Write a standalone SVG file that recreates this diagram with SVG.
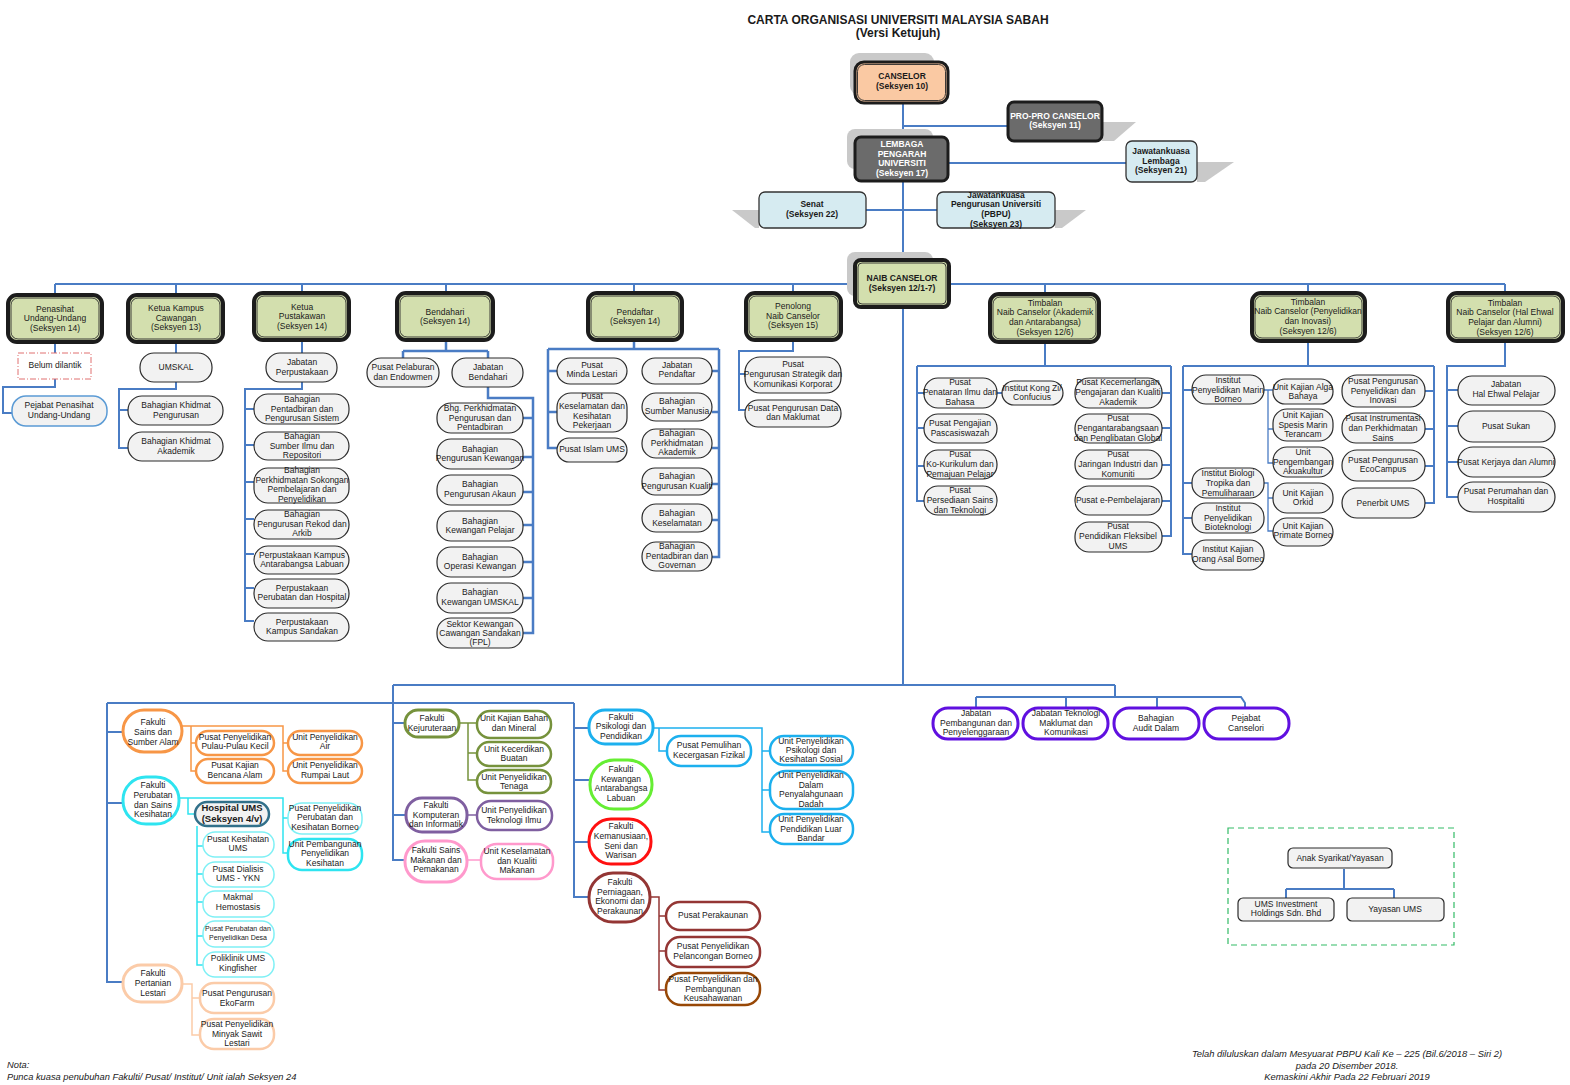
<svg xmlns="http://www.w3.org/2000/svg" width="1570" height="1085" viewBox="0 0 1570 1085">
<style>
text{font-family:"Liberation Sans",Arial,sans-serif;font-size:8.5px;fill:#1a1a1a;text-anchor:middle}
.b{font-weight:bold}
.w{fill:#fff}
.i{font-style:italic}
.c{fill:none;stroke:#4A7CC4;stroke-width:2}
.p{fill:#F2F2F2;stroke:#2b2b2b;stroke-width:1.2}
.g{fill:#D3DFAE;stroke:#1c1c1c;stroke-width:4}
.gi{fill:none;stroke:#2a2a2a;stroke-width:0.9}
.sh{fill:#C9C9C9}
.lb{fill:#D6EBF1;stroke:#333;stroke-width:1.3}
.dk{fill:#6B6B6B;stroke:#1c1c1c;stroke-width:3}
.f{fill:#fff;stroke-width:3}
.u{fill:#fff;stroke-width:2.5}
.pu{fill:#fff;stroke:#6010E0;stroke-width:3}
</style>

<!-- Title -->
<text class="b" x="898" y="24" style="font-size:12px">CARTA ORGANISASI UNIVERSITI MALAYSIA SABAH</text>
<text class="b" x="898" y="37" style="font-size:12px">(Versi Ketujuh)</text>

<!-- Connectors -->
<g id="connectors">
<path class="c" d="M903,103V137M903,181V260M903,307V685M903,126H1008M948,163H1126M866,210H937"/>
<path class="c" d="M55,284H1505M55,284V294M176,284V294M302,284V292M446,284V292M634,284V292M793,284V293M1045,284V294M1308,284V293M1505,284V293"/>
<path class="c" d="M55,342V353M55,379V387H3V413H12"/>
<path class="c" d="M176,342V353M176,382V389H119V448H128M119,410H128"/>
<path class="c" d="M302,340V353M302,382V389H245V621H254M245,409H254M245,445H254M245,482H254M245,519H254M245,554H254M245,588H254"/>
<path class="c" d="M446,340V351M403,351H488M403,351V358M488,351V358M488,387V398H533V633H523M533,418H523M533,457H523M533,492H523M533,525H523M533,562H523M533,598H523" style="stroke-width:2.5"/>
<path class="c" d="M634,340V349M548,349H719M548,349V448H557M548,371H557M548,412H557M719,349V557H712M719,371H712M719,412H712M719,448H712M719,484H712M719,520H712" style="stroke-width:2.5"/>
<path class="c" d="M793,340V351H739V410H745M739,374H745"/>
<path class="c" d="M1045,342V366M917,366H1171M917,366V501H924M917,393H924M917,428H924M917,466H924M1171,366V536H1162M1171,393H1162M1171,428H1162M1171,465H1162M1171,501H1162M997,393H1002"/>
<path class="c" d="M1308,341V366M1183,366H1434M1183,366V554H1192M1183,390H1192M1183,483H1192M1183,518H1192M1434,366V503H1425M1434,391H1425M1434,429H1425M1434,466H1425"/>
<path class="c" d="M1264,390H1273M1268,390V463H1273M1268,429H1273M1264,483H1268V531H1273M1268,498H1273" style="stroke-width:1.3"/>
<path class="c" d="M1505,341V366H1447V497H1458M1447,390H1458M1447,426H1458M1447,462H1458"/>
<path class="c" d="M393,685H1115M393,685V860H405M393,723H405M393,815H406M107,703H574M107,703V982H123M107,732H123M107,803H123M574,703V897H589M574,728H589M574,780H590M574,842H589"/>
<path class="c" d="M1115,685V697M976,697H1241L1245,703V708M976,697V708M1066,697V708M1157,697V708"/>
<path class="c" d="M1344,869V889M1286,889H1394M1286,889V898M1394,889V898"/>
<path d="M182,726H283V771H288M283,743H288M191,726V771H196M191,743H196" fill="none" stroke="#F79646" stroke-width="1.5"/>
<path d="M179,798H283V853H288M283,818H288M188,798V814H195M197,826V965H203M197,846H203M197,874H203M197,902H203M197,936H203" fill="none" stroke="#2EE4F0" stroke-width="1.5"/>
<path d="M182,984H192V1035H200M192,998H200" fill="none" stroke="#FBCBA8" stroke-width="1.5"/>
<path d="M459,723H477M468,723V780H477M468,753H477" fill="none" stroke="#76923C" stroke-width="1.5"/>
<path d="M467,815H477" fill="none" stroke="#7F5FA0" stroke-width="1.5"/>
<path d="M467,860H481" fill="none" stroke="#FF99CC" stroke-width="1.5"/>
<path d="M653,728H762V832H770M762,751H770M762,790H770M659,728V751H667" fill="none" stroke="#1CB0EE" stroke-width="1.5"/>
<path d="M650,897H659V990H666M659,916H666M659,951H666" fill="none" stroke="#943634" stroke-width="1.5"/>
</g>

<!-- Top nodes -->
<g id="canselor">
<rect class="sh" x="850" y="53" width="84" height="42" rx="9"/>
<rect x="855" y="62" width="93" height="41" rx="9" fill="#FAC9A3" stroke="#1c1c1c" stroke-width="3"/>
<rect class="gi" x="857.5" y="64.5" width="88" height="36" rx="7"/>
<text class="b"><tspan x="902" y="79">CANSELOR</tspan><tspan x="902" y="89">(Seksyen 10)</tspan></text>
</g>
<g id="pro-canselor">
<polygon class="sh" points="1102,122 1136,122 1114,141 1102,141"/>
<rect class="dk" x="1008" y="102" width="94" height="39" rx="6"/>
<text class="b w"><tspan x="1055" y="119">PRO-PRO CANSELOR</tspan><tspan x="1055" y="128">(Seksyen  11)</tspan></text>
</g>
<g id="lembaga">
<rect class="sh" x="847" y="129" width="86" height="40" rx="8"/>
<rect class="dk" x="855" y="137" width="93" height="44" rx="6"/>
<text class="b w"><tspan x="902" y="147">LEMBAGA</tspan><tspan x="902" y="157">PENGARAH</tspan><tspan x="902" y="166">UNIVERSITI</tspan><tspan x="902" y="176">(Seksyen 17)</tspan></text>
</g>
<g id="jaw-lembaga">
<polygon class="sh" points="1197,162 1234,162 1205,182 1197,182"/>
<rect class="lb" x="1126" y="141" width="71" height="41" rx="6"/>
<text class="b"><tspan x="1161" y="154">Jawatankuasa</tspan><tspan x="1161" y="164">Lembaga</tspan><tspan x="1161" y="173">(Seksyen 21)</tspan></text>
</g>
<g id="senat">
<polygon class="sh" points="759,210 732,210 755,228 759,228"/>
<rect class="lb" x="759" y="192" width="107" height="36" rx="6"/>
<text class="b"><tspan x="812" y="207">Senat</tspan><tspan x="812" y="217">(Seksyen 22)</tspan></text>
</g>
<g id="pbpu">
<polygon class="sh" points="1055,210 1086,210 1062,228 1055,228"/>
<rect class="lb" x="937" y="192" width="118" height="36" rx="6"/>
<text class="b"><tspan x="996" y="198">Jawatankuasa</tspan><tspan x="996" y="207">Pengurusan Universiti</tspan><tspan x="996" y="217">(PBPU)</tspan><tspan x="996" y="227">(Seksyen 23)</tspan></text>
</g>
<g id="naib-canselor">
<rect class="sh" x="847" y="252" width="86" height="44" rx="8"/>
<rect class="g" x="855" y="260" width="94" height="47" rx="6"/>
<rect class="gi" x="858" y="263" width="88" height="41" rx="4"/>
<text class="b"><tspan x="902" y="281">NAIB CANSELOR</tspan><tspan x="902" y="291">(Seksyen 12/1-7)</tspan></text>
</g>

<!-- Level 2 -->
<g id="penasihat">
<rect class="g" x="8" y="295" width="94" height="47" rx="9"/><rect class="gi" x="11" y="298" width="88" height="41" rx="7"/>
<text><tspan x="55" y="312">Penasihat</tspan><tspan x="55" y="321">Undang-Undang</tspan><tspan x="55" y="331">(Seksyen 14)</tspan></text>
</g>
<g id="ketua-kampus">
<rect class="g" x="128" y="295" width="95" height="47" rx="9"/><rect class="gi" x="131" y="298" width="89" height="41" rx="7"/>
<text><tspan x="176" y="311">Ketua Kampus</tspan><tspan x="176" y="321">Cawangan</tspan><tspan x="176" y="330">(Seksyen 13)</tspan></text>
</g>
<g id="ketua-pustakawan">
<rect class="g" x="254" y="293" width="95" height="47" rx="9"/><rect class="gi" x="257" y="296" width="89" height="41" rx="7"/>
<text><tspan x="302" y="310">Ketua</tspan><tspan x="302" y="319">Pustakawan</tspan><tspan x="302" y="329">(Seksyen 14)</tspan></text>
</g>
<g id="bendahari">
<rect class="g" x="397" y="293" width="96" height="47" rx="9"/><rect class="gi" x="400" y="296" width="90" height="41" rx="7"/>
<text><tspan x="445" y="315">Bendahari</tspan><tspan x="445" y="324">(Seksyen 14)</tspan></text>
</g>
<g id="pendaftar">
<rect class="g" x="588" y="293" width="94" height="47" rx="9"/><rect class="gi" x="591" y="296" width="88" height="41" rx="7"/>
<text><tspan x="635" y="315">Pendaftar</tspan><tspan x="635" y="324">(Seksyen 14)</tspan></text>
</g>
<g id="penolong-nc">
<rect class="g" x="746" y="293" width="95" height="47" rx="9"/><rect class="gi" x="749" y="296" width="89" height="41" rx="7"/>
<text><tspan x="793" y="309">Penolong</tspan><tspan x="793" y="319">Naib Canselor</tspan><tspan x="793" y="328">(Seksyen 15)</tspan></text>
</g>
<g id="tnc-akademik">
<rect class="g" x="990" y="294" width="109" height="48" rx="9"/><rect class="gi" x="993" y="297" width="103" height="42" rx="7"/>
<text><tspan x="1045" y="306">Timbalan</tspan><tspan x="1045" y="315">Naib Canselor (Akademik</tspan><tspan x="1045" y="325">dan Antarabangsa)</tspan><tspan x="1045" y="335">(Seksyen 12/6)</tspan></text>
</g>
<g id="tnc-penyelidikan">
<rect class="g" x="1252" y="293" width="113" height="48" rx="9"/><rect class="gi" x="1255" y="296" width="107" height="42" rx="7"/>
<text><tspan x="1308" y="305">Timbalan</tspan><tspan x="1308" y="314">Naib Canselor (Penyelidikan</tspan><tspan x="1308" y="324">dan Inovasi)</tspan><tspan x="1308" y="334">(Seksyen 12/6)</tspan></text>
</g>
<g id="tnc-hepa">
<rect class="g" x="1448" y="293" width="115" height="48" rx="9"/><rect class="gi" x="1451" y="296" width="109" height="42" rx="7"/>
<text><tspan x="1505" y="306">Timbalan</tspan><tspan x="1505" y="315">Naib Canselor (Hal Ehwal</tspan><tspan x="1505" y="325">Pelajar dan Alumni)</tspan><tspan x="1505" y="335">(Seksyen 12/6)</tspan></text>
</g>

<!-- Penasihat children -->
<g id="belum-dilantik"><rect x="18" y="353" width="73" height="26" fill="#fff" stroke="#E07070" stroke-width="1" stroke-dasharray="6,2,1,2"/><text x="55" y="368">Belum dilantik</text></g>
<g id="pejabat-penasihat"><rect x="12" y="396" width="95" height="30" rx="14" fill="#F2F2F2" stroke="#5B9BD5" stroke-width="1.5"/><text><tspan x="59" y="408">Pejabat Penasihat</tspan><tspan x="59" y="418">Undang-Undang</tspan></text></g>

<!-- Kampus children -->
<g id="umskal"><rect class="p" x="140" y="353" width="72" height="29" rx="14"/><text x="176" y="370">UMSKAL</text></g>
<g id="bkp"><rect class="p" x="128" y="396" width="95" height="29" rx="14"/><text><tspan x="176" y="408">Bahagian Khidmat</tspan><tspan x="176" y="418">Pengurusan</tspan></text></g>
<g id="bka"><rect class="p" x="128" y="432" width="95" height="29" rx="14"/><text><tspan x="176" y="444">Bahagian Khidmat</tspan><tspan x="176" y="454">Akademik</tspan></text></g>

<!-- Pustakawan children -->
<g id="jab-perpustakaan"><rect class="p" x="266" y="353" width="71" height="29" rx="14"/><text><tspan x="302" y="365">Jabatan</tspan><tspan x="302" y="375">Perpustakaan</tspan></text></g>
<g id="bps"><rect class="p" x="254" y="394" width="95" height="30" rx="14"/><text><tspan x="302" y="402">Bahagian</tspan><tspan x="302" y="412">Pentadbiran dan</tspan><tspan x="302" y="421">Pengurusan Sistem</tspan></text></g>
<g id="bsir"><rect class="p" x="254" y="432" width="95" height="28" rx="14"/><text><tspan x="302" y="439">Bahagian</tspan><tspan x="302" y="449">Sumber Ilmu dan</tspan><tspan x="302" y="458">Repositori</tspan></text></g>
<g id="bpspp"><rect class="p" x="254" y="468" width="95" height="35" rx="14"/><text><tspan x="302" y="473">Bahagian</tspan><tspan x="302" y="483">Perkhidmatan Sokongan</tspan><tspan x="302" y="492">Pembelajaran dan</tspan><tspan x="302" y="502">Penyelidikan</tspan></text></g>
<g id="bpra"><rect class="p" x="254" y="510" width="95" height="29" rx="14"/><text><tspan x="302" y="517">Bahagian</tspan><tspan x="302" y="527">Pengurusan Rekod dan</tspan><tspan x="302" y="536">Arkib</tspan></text></g>
<g id="pkal"><rect class="p" x="254" y="546" width="95" height="28" rx="14"/><text><tspan x="302" y="558">Perpustakaan Kampus</tspan><tspan x="302" y="567">Antarabangsa Labuan</tspan></text></g>
<g id="pph"><rect class="p" x="254" y="579" width="95" height="29" rx="14"/><text><tspan x="302" y="591">Perpustakaan</tspan><tspan x="302" y="600">Perubatan dan Hospital</tspan></text></g>
<g id="pks"><rect class="p" x="254" y="613" width="95" height="28" rx="14"/><text><tspan x="302" y="625">Perpustakaan</tspan><tspan x="302" y="634">Kampus Sandakan</tspan></text></g>

<!-- Bendahari children -->
<g id="ppe"><rect class="p" x="367" y="358" width="72" height="29" rx="14"/><text><tspan x="403" y="370">Pusat Pelaburan</tspan><tspan x="403" y="380">dan Endowmen</tspan></text></g>
<g id="jab-bendahari"><rect class="p" x="452" y="358" width="71" height="29" rx="14"/><text><tspan x="488" y="370">Jabatan</tspan><tspan x="488" y="380">Bendahari</tspan></text></g>
<g id="bhg-ppp"><rect class="p" x="437" y="403" width="86" height="30" rx="14"/><text><tspan x="480" y="411">Bhg. Perkhidmatan</tspan><tspan x="480" y="421">Pengurusan dan</tspan><tspan x="480" y="430">Pentadbiran</tspan></text></g>
<g id="bpk"><rect class="p" x="437" y="439" width="86" height="30" rx="14"/><text><tspan x="480" y="452">Bahagian</tspan><tspan x="480" y="461">Pengurusan Kewangan</tspan></text></g>
<g id="bpa"><rect class="p" x="437" y="475" width="86" height="30" rx="14"/><text><tspan x="480" y="487">Bahagian</tspan><tspan x="480" y="497">Pengurusan Akaun</tspan></text></g>
<g id="bkpel"><rect class="p" x="437" y="511" width="86" height="30" rx="14"/><text><tspan x="480" y="524">Bahagian</tspan><tspan x="480" y="533">Kewangan Pelajar</tspan></text></g>
<g id="bok"><rect class="p" x="437" y="547" width="86" height="30" rx="14"/><text><tspan x="480" y="560">Bahagian</tspan><tspan x="480" y="569">Operasi Kewangan</tspan></text></g>
<g id="bku"><rect class="p" x="437" y="583" width="86" height="30" rx="14"/><text><tspan x="480" y="595">Bahagian</tspan><tspan x="480" y="605">Kewangan UMSKAL</tspan></text></g>
<g id="skcs"><rect class="p" x="437" y="618" width="86" height="30" rx="14"/><text><tspan x="480" y="627">Sektor Kewangan</tspan><tspan x="480" y="636">Cawangan Sandakan</tspan><tspan x="480" y="645">(FPL)</tspan></text></g>

<!-- Pendaftar children -->
<g id="pml"><rect class="p" x="557" y="358" width="70" height="26" rx="13"/><text><tspan x="592" y="368">Pusat</tspan><tspan x="592" y="377">Minda Lestari</tspan></text></g>
<g id="pkkp"><rect class="p" x="557" y="393" width="70" height="39" rx="14"/><text><tspan x="592" y="399">Pusat</tspan><tspan x="592" y="409">Keselamatan dan</tspan><tspan x="592" y="419">Kesihatan</tspan><tspan x="592" y="428">Pekerjaan</tspan></text></g>
<g id="pium"><rect class="p" x="557" y="438" width="70" height="24" rx="12"/><text x="592" y="452">Pusat Islam UMS</text></g>
<g id="jab-pendaftar"><rect class="p" x="642" y="358" width="70" height="26" rx="13"/><text><tspan x="677" y="368">Jabatan</tspan><tspan x="677" y="377">Pendaftar</tspan></text></g>
<g id="bsm"><rect class="p" x="642" y="393" width="70" height="28" rx="14"/><text><tspan x="677" y="404">Bahagian</tspan><tspan x="677" y="414">Sumber Manusia</tspan></text></g>
<g id="bpakad"><rect class="p" x="642" y="429" width="70" height="29" rx="14"/><text><tspan x="677" y="436">Bahagian</tspan><tspan x="677" y="446">Perkhidmatan</tspan><tspan x="677" y="455">Akademik</tspan></text></g>
<g id="bpkual"><rect class="p" x="642" y="468" width="70" height="27" rx="13"/><text><tspan x="677" y="479">Bahagian</tspan><tspan x="677" y="489">Pengurusan Kualiti</tspan></text></g>
<g id="bkes"><rect class="p" x="642" y="504" width="70" height="28" rx="14"/><text><tspan x="677" y="516">Bahagian</tspan><tspan x="677" y="526">Keselamatan</tspan></text></g>
<g id="bpg"><rect class="p" x="642" y="542" width="70" height="29" rx="14"/><text><tspan x="677" y="549">Bahagian</tspan><tspan x="677" y="559">Pentadbiran dan</tspan><tspan x="677" y="568">Governan</tspan></text></g>

<!-- Penolong NC children -->
<g id="pskk"><rect class="p" x="745" y="357" width="96" height="36" rx="15"/><text><tspan x="793" y="367">Pusat</tspan><tspan x="793" y="377">Pengurusan Strategik dan</tspan><tspan x="793" y="387">Komunikasi Korporat</tspan></text></g>
<g id="ppdm"><rect class="p" x="745" y="400" width="96" height="27" rx="13"/><text><tspan x="793" y="411">Pusat Pengurusan Data</tspan><tspan x="793" y="420">dan Maklumat</tspan></text></g>

<!-- TNC Akademik children -->
<g id="ppib"><rect class="p" x="924" y="378" width="73" height="30" rx="14"/><text><tspan x="960" y="385">Pusat</tspan><tspan x="960" y="395">Penataran Ilmu dan</tspan><tspan x="960" y="405">Bahasa</tspan></text></g>
<g id="kongzi"><rect class="p" x="1002" y="381" width="61" height="24" rx="12"/><text><tspan x="1032" y="391">Institut Kong Zi/</tspan><tspan x="1032" y="400">Confucius</tspan></text></g>
<g id="pps"><rect class="p" x="924" y="414" width="73" height="29" rx="14"/><text><tspan x="960" y="426">Pusat Pengajian</tspan><tspan x="960" y="436">Pascasiswazah</tspan></text></g>
<g id="pkkpp"><rect class="p" x="924" y="450" width="73" height="29" rx="14"/><text><tspan x="960" y="457">Pusat</tspan><tspan x="960" y="467">Ko-Kurikulum dan</tspan><tspan x="960" y="477">Pemajuan Pelajar</tspan></text></g>
<g id="ppst"><rect class="p" x="924" y="486" width="73" height="29" rx="14"/><text><tspan x="960" y="493">Pusat</tspan><tspan x="960" y="503">Persediaan Sains</tspan><tspan x="960" y="513">dan Teknologi</tspan></text></g>
<g id="pkpka"><rect class="p" x="1075" y="378" width="87" height="30" rx="14"/><text><tspan x="1118" y="385">Pusat Kecemerlangan</tspan><tspan x="1118" y="395">Pengajaran dan Kualiti</tspan><tspan x="1118" y="405">Akademik</tspan></text></g>
<g id="pppg"><rect class="p" x="1075" y="414" width="87" height="29" rx="14"/><text><tspan x="1118" y="421">Pusat</tspan><tspan x="1118" y="431">Pengantarabangsaan</tspan><tspan x="1118" y="441">dan Penglibatan Global</tspan></text></g>
<g id="pjik"><rect class="p" x="1075" y="450" width="87" height="29" rx="14"/><text><tspan x="1118" y="457">Pusat</tspan><tspan x="1118" y="467">Jaringan Industri dan</tspan><tspan x="1118" y="477">Komuniti</tspan></text></g>
<g id="pep"><rect class="p" x="1075" y="486" width="87" height="29" rx="14"/><text x="1118" y="503">Pusat e-Pembelajaran</text></g>
<g id="ppfu"><rect class="p" x="1075" y="522" width="87" height="30" rx="14"/><text><tspan x="1118" y="529">Pusat</tspan><tspan x="1118" y="539">Pendidikan Fleksibel</tspan><tspan x="1118" y="549">UMS</tspan></text></g>

<!-- TNC Penyelidikan children -->
<g id="ipmb"><rect class="p" x="1192" y="375" width="72" height="29" rx="14"/><text><tspan x="1228" y="383">Institut</tspan><tspan x="1228" y="393">Penyelidikan Marin</tspan><tspan x="1228" y="402">Borneo</tspan></text></g>
<g id="ibtp"><rect class="p" x="1192" y="468" width="72" height="30" rx="14"/><text><tspan x="1228" y="476">Institut Biologi</tspan><tspan x="1228" y="486">Tropika dan</tspan><tspan x="1228" y="496">Pemuliharaan</tspan></text></g>
<g id="ipb"><rect class="p" x="1192" y="503" width="72" height="30" rx="14"/><text><tspan x="1228" y="511">Institut</tspan><tspan x="1228" y="521">Penyelidikan</tspan><tspan x="1228" y="530">Bioteknologi</tspan></text></g>
<g id="ikoab"><rect class="p" x="1192" y="540" width="72" height="30" rx="14"/><text><tspan x="1228" y="552">Institut Kajian</tspan><tspan x="1228" y="562">Orang Asal Borneo</tspan></text></g>
<g id="ukab"><rect class="p" x="1273" y="379" width="60" height="25" rx="12"/><text><tspan x="1303" y="390">Unit Kajian Alga</tspan><tspan x="1303" y="399">Bahaya</tspan></text></g>
<g id="uksmt"><rect class="p" x="1273" y="409" width="60" height="32" rx="14"/><text><tspan x="1303" y="418">Unit Kajian</tspan><tspan x="1303" y="428">Spesis Marin</tspan><tspan x="1303" y="437">Terancam</tspan></text></g>
<g id="upa"><rect class="p" x="1273" y="447" width="60" height="30" rx="14"/><text><tspan x="1303" y="455">Unit</tspan><tspan x="1303" y="465">Pengembangan</tspan><tspan x="1303" y="474">Akuakultur</tspan></text></g>
<g id="uko"><rect class="p" x="1273" y="483" width="60" height="30" rx="14"/><text><tspan x="1303" y="496">Unit Kajian</tspan><tspan x="1303" y="505">Orkid</tspan></text></g>
<g id="ukpb"><rect class="p" x="1273" y="518" width="60" height="28" rx="14"/><text><tspan x="1303" y="529">Unit Kajian</tspan><tspan x="1303" y="538">Primate Borneo</tspan></text></g>
<g id="pppi"><rect class="p" x="1342" y="375" width="83" height="32" rx="15"/><text><tspan x="1383" y="384">Pusat Pengurusan</tspan><tspan x="1383" y="394">Penyelidikan dan</tspan><tspan x="1383" y="403">Inovasi</tspan></text></g>
<g id="pips"><rect class="p" x="1342" y="413" width="83" height="30" rx="14"/><text><tspan x="1383" y="421">Pusat Instrumentasi</tspan><tspan x="1383" y="431">dan Perkhidmatan</tspan><tspan x="1383" y="441">Sains</tspan></text></g>
<g id="ppe-eco"><rect class="p" x="1342" y="450" width="83" height="31" rx="15"/><text><tspan x="1383" y="463">Pusat Pengurusan</tspan><tspan x="1383" y="472">EcoCampus</tspan></text></g>
<g id="penerbit"><rect class="p" x="1342" y="488" width="83" height="30" rx="15"/><text x="1383" y="506">Penerbit UMS</text></g>

<!-- TNC HEPA children -->
<g id="jhep"><rect class="p" x="1458" y="376" width="97" height="29" rx="14"/><text><tspan x="1506" y="387">Jabatan</tspan><tspan x="1506" y="397">Hal Ehwal Pelajar</tspan></text></g>
<g id="psukan"><rect class="p" x="1458" y="411" width="97" height="31" rx="15"/><text x="1506" y="429">Pusat Sukan</text></g>
<g id="pka"><rect class="p" x="1458" y="447" width="97" height="30" rx="15"/><text x="1506" y="465">Pusat Kerjaya dan Alumni</text></g>
<g id="pph2"><rect class="p" x="1458" y="482" width="97" height="30" rx="15"/><text><tspan x="1506" y="494">Pusat Perumahan dan</tspan><tspan x="1506" y="504">Hospitaliti</tspan></text></g>

<!-- Bottom-right purple units -->
<g id="jpp"><rect class="pu" x="933" y="708" width="85" height="31" rx="15"/><text><tspan x="976" y="716">Jabatan</tspan><tspan x="976" y="726">Pembangunan dan</tspan><tspan x="976" y="735">Penyelenggaraan</tspan></text></g>
<g id="jtmk"><rect class="pu" x="1023" y="708" width="85" height="31" rx="15"/><text><tspan x="1066" y="716">Jabatan Teknologi</tspan><tspan x="1066" y="726">Maklumat dan</tspan><tspan x="1066" y="735">Komunikasi</tspan></text></g>
<g id="bad"><rect class="pu" x="1114" y="708" width="85" height="31" rx="15"/><text><tspan x="1156" y="721">Bahagian</tspan><tspan x="1156" y="731">Audit Dalam</tspan></text></g>
<g id="pcanselori"><rect class="pu" x="1204" y="708" width="85" height="31" rx="15"/><text><tspan x="1246" y="721">Pejabat</tspan><tspan x="1246" y="731">Canselori</tspan></text></g>

<!-- Anak syarikat -->
<rect x="1228" y="828" width="226" height="117" fill="none" stroke="#33BB66" stroke-width="1.2" stroke-dasharray="6,4"/>
<g id="anak-syarikat"><rect class="p" x="1288" y="848" width="104" height="20" rx="5"/><text x="1340" y="861">Anak Syarikat/Yayasan</text></g>
<g id="ums-investment"><rect class="p" x="1238" y="898" width="96" height="23" rx="5"/><text><tspan x="1286" y="907">UMS Investment</tspan><tspan x="1286" y="916">Holdings Sdn. Bhd</tspan></text></g>
<g id="yayasan-ums"><rect class="p" x="1347" y="898" width="97" height="23" rx="5"/><text x="1395" y="912">Yayasan UMS</text></g>

<!-- Faculties left -->
<g id="fssa"><rect class="f" x="123" y="710" width="59" height="42" rx="21" stroke="#F79646"/><text><tspan x="153" y="725">Fakulti</tspan><tspan x="153" y="735">Sains dan</tspan><tspan x="153" y="745">Sumber Alam</tspan></text></g>
<g id="pppk"><rect class="u" x="196" y="731" width="78" height="24" rx="12" stroke="#F79646"/><text><tspan x="235" y="740">Pusat Penyelidikan</tspan><tspan x="235" y="749">Pulau-Pulau Kecil</tspan></text></g>
<g id="pkba"><rect class="u" x="196" y="759" width="78" height="24" rx="12" stroke="#F79646"/><text><tspan x="235" y="768">Pusat Kajian</tspan><tspan x="235" y="778">Bencana Alam</tspan></text></g>
<g id="upair"><rect class="u" x="288" y="731" width="74" height="24" rx="12" stroke="#F79646"/><text><tspan x="325" y="740">Unit Penyelidikan</tspan><tspan x="325" y="749">Air</tspan></text></g>
<g id="uprl"><rect class="u" x="288" y="759" width="74" height="24" rx="12" stroke="#F79646"/><text><tspan x="325" y="768">Unit Penyelidikan</tspan><tspan x="325" y="778">Rumpai Laut</tspan></text></g>

<g id="fpsk"><rect class="f" x="123" y="777" width="56" height="47" rx="23" stroke="#2EE4F0"/><text><tspan x="153" y="788">Fakulti</tspan><tspan x="153" y="798">Perubatan</tspan><tspan x="153" y="808">dan Sains</tspan><tspan x="153" y="817">Kesihatan</tspan></text></g>
<g id="hospital-ums"><rect x="195" y="802" width="74" height="24" rx="12" fill="#F2F2F2" stroke="#31708A" stroke-width="2.5"/><text class="b" style="font-size:9.5px"><tspan x="232" y="811">Hospital UMS</tspan><tspan x="232" y="822">(Seksyen 4/v)</tspan></text></g>
<g id="pkums"><rect class="u" x="203" y="832" width="71" height="25" rx="12" stroke="#7FF0F5" style="stroke-width:1.5"/><text><tspan x="238" y="842">Pusat Kesihatan</tspan><tspan x="238" y="851">UMS</tspan></text></g>
<g id="pdykn"><rect class="u" x="203" y="862" width="71" height="25" rx="12" stroke="#7FF0F5" style="stroke-width:1.5"/><text><tspan x="238" y="872">Pusat Dialisis</tspan><tspan x="238" y="881">UMS - YKN</tspan></text></g>
<g id="mh"><rect class="u" x="203" y="891" width="71" height="26" rx="12" stroke="#7FF0F5" style="stroke-width:1.5"/><text><tspan x="238" y="900">Makmal</tspan><tspan x="238" y="910">Hemostasis</tspan></text></g>
<g id="pppd"><rect class="u" x="203" y="921" width="71" height="26" rx="12" stroke="#7FF0F5" style="stroke-width:1.5"/><text style="font-size:7px"><tspan x="238" y="931">Pusat Perubatan dan</tspan><tspan x="238" y="940">Penyelidikan Desa</tspan></text></g>
<g id="pumsk"><rect class="u" x="203" y="952" width="71" height="25" rx="12" stroke="#7FF0F5" style="stroke-width:1.5"/><text><tspan x="238" y="961">Poliklinik UMS</tspan><tspan x="238" y="971">Kingfisher</tspan></text></g>
<g id="pppkb"><rect class="u" x="288" y="803" width="74" height="31" rx="14" stroke="#7FF0F5" style="stroke-width:1.5"/><text><tspan x="325" y="811">Pusat Penyelidikan</tspan><tspan x="325" y="820">Perubatan dan</tspan><tspan x="325" y="830">Kesihatan Borneo</tspan></text></g>
<g id="uppk"><rect class="u" x="288" y="839" width="74" height="31" rx="14" stroke="#2EE4F0"/><text><tspan x="325" y="847">Unit Pembangunan</tspan><tspan x="325" y="856">Penyelidikan</tspan><tspan x="325" y="866">Kesihatan</tspan></text></g>

<g id="fpl"><rect class="f" x="123" y="965" width="59" height="37" rx="18" stroke="#FBCBA8"/><text><tspan x="153" y="976">Fakulti</tspan><tspan x="153" y="986">Pertanian</tspan><tspan x="153" y="996">Lestari</tspan></text></g>
<g id="ppek"><rect class="u" x="200" y="983" width="74" height="30" rx="14" stroke="#FBCBA8"/><text><tspan x="237" y="996">Pusat Pengurusan</tspan><tspan x="237" y="1006">EkoFarm</tspan></text></g>
<g id="ppmsl"><rect class="u" x="200" y="1019" width="74" height="30" rx="14" stroke="#FBCBA8"/><text><tspan x="237" y="1027">Pusat Penyelidikan</tspan><tspan x="237" y="1037">Minyak Sawit</tspan><tspan x="237" y="1046">Lestari</tspan></text></g>

<!-- Middle faculties -->
<g id="fk"><rect class="f" x="405" y="710" width="54" height="27" rx="13" stroke="#76923C"/><text><tspan x="432" y="721">Fakulti</tspan><tspan x="432" y="731">Kejuruteraan</tspan></text></g>
<g id="ukbm"><rect class="u" x="477" y="711" width="74" height="27" rx="13" stroke="#76923C"/><text><tspan x="514" y="721">Unit Kajian Bahan</tspan><tspan x="514" y="731">dan Mineral</tspan></text></g>
<g id="ukb"><rect class="u" x="477" y="742" width="74" height="24" rx="12" stroke="#76923C"/><text><tspan x="514" y="752">Unit Kecerdikan</tspan><tspan x="514" y="761">Buatan</tspan></text></g>
<g id="upt"><rect class="u" x="477" y="770" width="74" height="23" rx="11" stroke="#76923C"/><text><tspan x="514" y="780">Unit Penyelidikan</tspan><tspan x="514" y="789">Tenaga</tspan></text></g>
<g id="fki"><rect class="f" x="406" y="798" width="61" height="34" rx="16" stroke="#7F5FA0"/><text><tspan x="436" y="808">Fakulti</tspan><tspan x="436" y="818">Komputeran</tspan><tspan x="436" y="827">dan Informatik</tspan></text></g>
<g id="upti"><rect class="u" x="477" y="801" width="75" height="29" rx="14" stroke="#7F5FA0"/><text><tspan x="514" y="813">Unit Penyelidikan</tspan><tspan x="514" y="823">Teknologi Ilmu</tspan></text></g>
<g id="fsmp"><rect class="f" x="405" y="841" width="62" height="41" rx="20" stroke="#FF99CC"/><text><tspan x="436" y="853">Fakulti Sains</tspan><tspan x="436" y="863">Makanan dan</tspan><tspan x="436" y="872">Pemakanan</tspan></text></g>
<g id="ukkm"><rect class="u" x="481" y="844" width="72" height="35" rx="16" stroke="#FF99CC"/><text><tspan x="517" y="854">Unit Keselamatan</tspan><tspan x="517" y="864">dan Kualiti</tspan><tspan x="517" y="873">Makanan</tspan></text></g>

<g id="fpp"><rect class="f" x="589" y="710" width="64" height="34" rx="16" stroke="#1CB0EE"/><text><tspan x="621" y="720">Fakulti</tspan><tspan x="621" y="729">Psikologi dan</tspan><tspan x="621" y="739">Pendidikan</tspan></text></g>
<g id="ppkf"><rect class="u" x="667" y="736" width="84" height="30" rx="14" stroke="#1CB0EE"/><text><tspan x="709" y="748">Pusat Pemulihan</tspan><tspan x="709" y="758">Kecergasan Fizikal</tspan></text></g>
<g id="uppks"><rect class="u" x="770" y="736" width="83" height="29" rx="14" stroke="#1CB0EE"/><text><tspan x="811" y="744">Unit Penyelidikan</tspan><tspan x="811" y="753">Psikologi dan</tspan><tspan x="811" y="762">Kesihatan Sosial</tspan></text></g>
<g id="updpd"><rect class="u" x="770" y="771" width="83" height="38" rx="16" stroke="#1CB0EE"/><text><tspan x="811" y="778">Unit Penyelidikan</tspan><tspan x="811" y="788">Dalam</tspan><tspan x="811" y="797">Penyalahgunaan</tspan><tspan x="811" y="807">Dadah</tspan></text></g>
<g id="uppl"><rect class="u" x="770" y="814" width="83" height="30" rx="14" stroke="#1CB0EE"/><text><tspan x="811" y="822">Unit Penyelidikan</tspan><tspan x="811" y="832">Pendidikan Luar</tspan><tspan x="811" y="841">Bandar</tspan></text></g>
<g id="fkal"><rect class="f" x="590" y="760" width="62" height="49" rx="24" stroke="#66EE33"/><text><tspan x="621" y="772">Fakulti</tspan><tspan x="621" y="782">Kewangan</tspan><tspan x="621" y="791">Antarabangsa</tspan><tspan x="621" y="801">Labuan</tspan></text></g>
<g id="fksw"><rect class="f" x="589" y="819" width="62" height="45" rx="22" stroke="#FF1010"/><text><tspan x="621" y="829">Fakulti</tspan><tspan x="621" y="839">Kemanusiaan,</tspan><tspan x="621" y="849">Seni dan</tspan><tspan x="621" y="858">Warisan</tspan></text></g>
<g id="fpep"><rect class="f" x="589" y="873" width="61" height="49" rx="24" stroke="#943634"/><text><tspan x="620" y="885">Fakulti</tspan><tspan x="620" y="895">Perniagaan,</tspan><tspan x="620" y="904">Ekonomi dan</tspan><tspan x="620" y="914">Perakaunan</tspan></text></g>
<g id="pperak"><rect class="u" x="666" y="902" width="94" height="28" rx="14" stroke="#943634"/><text x="713" y="918">Pusat Perakaunan</text></g>
<g id="pppb"><rect class="u" x="666" y="937" width="94" height="30" rx="14" stroke="#943634"/><text><tspan x="713" y="949">Pusat Penyelidikan</tspan><tspan x="713" y="959">Pelancongan Borneo</tspan></text></g>
<g id="pppk2"><rect class="u" x="666" y="973" width="94" height="32" rx="15" stroke="#984806"/><text><tspan x="713" y="982">Pusat Penyelidikan dan</tspan><tspan x="713" y="992">Pembangunan</tspan><tspan x="713" y="1001">Keusahawanan</tspan></text></g>

<!-- Footer -->
<text class="i" style="text-anchor:start;font-size:9.3px"><tspan x="7" y="1068">Nota:</tspan><tspan x="7" y="1080">Punca kuasa penubuhan Fakulti/ Pusat/ Institut/ Unit ialah Seksyen 24</tspan></text>
<text class="i" style="font-size:9.4px"><tspan x="1347" y="1057">Telah diluluskan dalam Mesyuarat PBPU  Kali Ke – 225 (Bil.6/2018 – Siri 2)</tspan><tspan x="1347" y="1069">pada 20 Disember 2018.</tspan><tspan x="1347" y="1080">Kemaskini Akhir Pada 22 Februari 2019</tspan></text>
</svg>
